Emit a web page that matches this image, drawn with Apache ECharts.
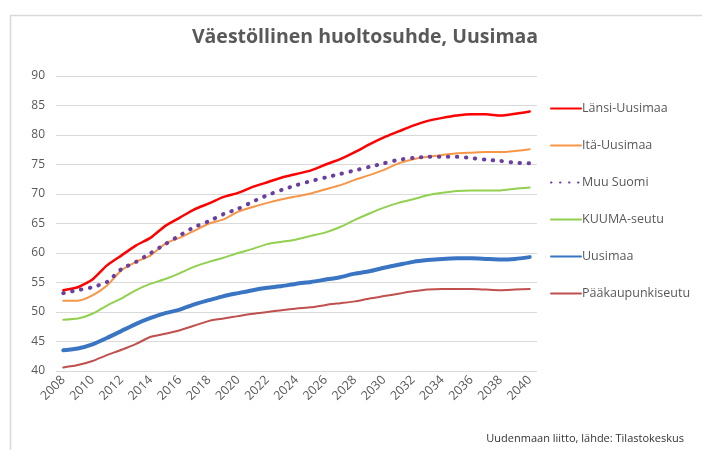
<!DOCTYPE html>
<html>
<head>
<meta charset="utf-8">
<script src="https://cdn.jsdelivr.net/npm/echarts@6/dist/echarts.min.js"></script>
<style>
  html, body { margin: 0; padding: 0; background: #fff; }
  #chart { width: 702px; height: 450px; }
</style>
</head>
<body>
<div id="chart"></div>
<script>
// vuodet 2008-2040
var years = [];
for (var y = 2008; y <= 2040; y++) years.push(String(y));

var lansiUusimaa = [53.7, 54.2, 55.5, 57.9, 59.6, 61.3, 62.6, 64.6, 66.0, 67.4, 68.4, 69.5, 70.2, 71.2, 72.0, 72.8, 73.4, 74.0, 75.0, 75.9, 77.1, 78.4, 79.6, 80.6, 81.6, 82.4, 82.9, 83.3, 83.5, 83.5, 83.3, 83.6, 84.0];
var itaUusimaa = [51.9, 51.9, 52.8, 54.5, 57.1, 58.5, 59.6, 61.6, 62.6, 63.8, 65.0, 65.7, 67.0, 67.8, 68.5, 69.1, 69.6, 70.1, 70.8, 71.5, 72.4, 73.2, 74.1, 75.2, 75.9, 76.3, 76.6, 76.9, 77.0, 77.1, 77.1, 77.3, 77.6];
var muuSuomi = [53.2, 53.7, 54.2, 55.1, 57.3, 58.5, 60.0, 61.5, 63.0, 64.4, 65.4, 66.6, 67.5, 68.7, 69.8, 70.7, 71.5, 72.2, 72.8, 73.4, 74.0, 74.6, 75.2, 75.8, 76.1, 76.3, 76.3, 76.3, 76.1, 75.8, 75.6, 75.3, 75.2];
var kuumaSeutu = [48.7, 48.9, 49.7, 51.1, 52.3, 53.7, 54.8, 55.6, 56.6, 57.7, 58.5, 59.2, 60.0, 60.7, 61.5, 61.9, 62.3, 62.9, 63.5, 64.4, 65.6, 66.7, 67.7, 68.5, 69.1, 69.8, 70.2, 70.5, 70.6, 70.6, 70.6, 70.9, 71.1];
var uusimaa = [43.5, 43.8, 44.5, 45.6, 46.8, 48.0, 49.0, 49.8, 50.4, 51.3, 52.0, 52.7, 53.2, 53.7, 54.1, 54.4, 54.8, 55.1, 55.5, 55.9, 56.5, 56.9, 57.5, 58.0, 58.5, 58.8, 59.0, 59.1, 59.1, 59.0, 58.9, 59.0, 59.3];
var paakaupunkiseutu = [40.6, 41.0, 41.7, 42.7, 43.6, 44.6, 45.8, 46.3, 46.9, 47.7, 48.5, 48.9, 49.3, 49.7, 50.0, 50.3, 50.6, 50.8, 51.2, 51.5, 51.8, 52.3, 52.7, 53.1, 53.5, 53.8, 53.9, 53.9, 53.9, 53.8, 53.7, 53.8, 53.9];

var chart = echarts.init(document.getElementById('chart'), null, { renderer: 'canvas' });

function lineSeries(name, data, color, width, type) {
  return {
    name: name,
    type: 'line',
    data: data,
    symbol: 'none',
    smooth: 0.2,
    lineStyle: { color: color, width: width, type: type || 'solid', cap: 'round' },
    itemStyle: { color: color }
  };
}

var option = {
  animation: false,
  backgroundColor: '#fff',
  title: {
    text: 'Väestöllinen huoltosuhde, Uusimaa',
    left: 360, textAlign: 'center', top: 22,
    textStyle: { fontFamily: 'Open Sans', fontSize: 19.5, fontWeight: 'bold', color: '#595959' }
  },
  legend: {
    orient: 'vertical',
    left: 545, top: 97,
    itemWidth: 30, itemHeight: 14, itemGap: 24,
    itemStyle: { opacity: 0 },
    textStyle: { fontFamily: 'Open Sans', fontSize: 12.5, color: '#595959', padding: [0, 0, 0, -4] },
    data: ['Länsi-Uusimaa', 'Itä-Uusimaa', 'Muu Suomi', 'KUUMA-seutu', 'Uusimaa', 'Pääkaupunkiseutu']
  },
  grid: { left: 56, right: 165, top: 76, bottom: 79, containLabel: false },
  xAxis: {
    type: 'category',
    data: years,
    boundaryGap: true,
    axisLine: { show: false },
    axisTick: { show: false },
    axisLabel: { interval: 1, rotate: 45, color: '#595959', fontFamily: 'Open Sans', fontSize: 12.5, margin: 7 }
  },
  yAxis: {
    type: 'value',
    min: 40, max: 90, interval: 5,
    axisLine: { show: false },
    axisTick: { show: false },
    axisLabel: { color: '#595959', fontFamily: 'Open Sans', fontSize: 12, margin: 11 },
    splitLine: { lineStyle: { color: '#d9d9d9', width: 1 } }
  },
  series: [
    lineSeries('Länsi-Uusimaa', lansiUusimaa, '#ff0000', 2.5),
    lineSeries('Itä-Uusimaa', itaUusimaa, '#f79646', 2),
    lineSeries('Muu Suomi', muuSuomi, '#6a3fa0', 4, [0.5, 8.5]),
    lineSeries('KUUMA-seutu', kuumaSeutu, '#92d050', 2),
    lineSeries('Uusimaa', uusimaa, '#3a75c4', 4),
    lineSeries('Pääkaupunkiseutu', paakaupunkiseutu, '#c0504d', 2)
  ],
  graphic: [
    {
      type: 'rect', left: 8, top: 13, silent: true,
      shape: { width: 720, height: 460 },
      style: { fill: 'none', stroke: '#d9d9d9', lineWidth: 1.5 }
    },
    {
      type: 'text', right: 18, top: 433, silent: true,
      style: { text: 'Uudenmaan liitto, lähde: Tilastokeskus', fill: '#333', font: '11px "Open Sans"' }
    }
  ]
};

chart.setOption(option);
</script>
</body>
</html>
